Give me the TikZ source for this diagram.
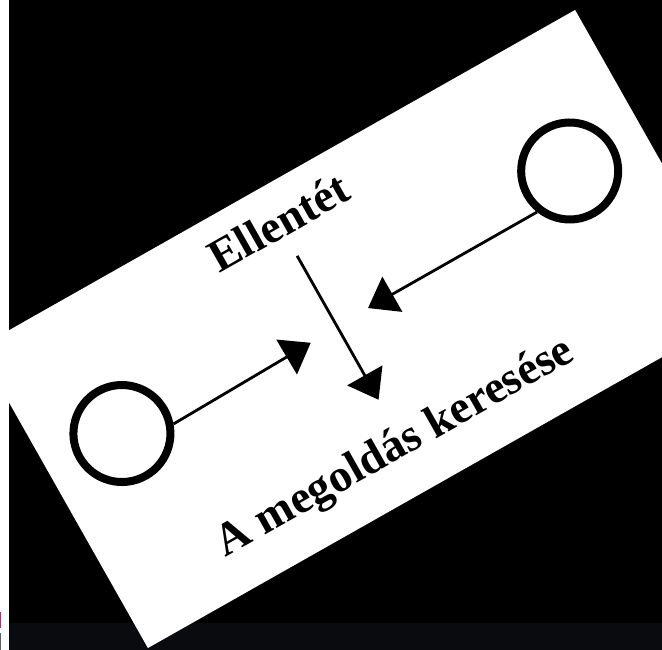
\documentclass[tikz,border=0pt]{standalone}
\usepackage{fontspec}
\setmainfont{Liberation Serif}
\usetikzlibrary{arrows.meta}
\definecolor{bandcol}{RGB}{10,11,15}
\definecolor{markmag}{RGB}{230,20,120}
\definecolor{markgray}{RGB}{90,96,110}
\begin{document}
\begin{tikzpicture}[x=1pt,y=1pt,
  ring/.style={circle,draw=black,line width=8pt,minimum size=97pt,inner sep=0pt,transform shape},
  arr/.style={line width=2.8pt,-{Triangle[length=28pt,width=40pt]}},
  lbl/.style={font=\fontsize{46}{50}\selectfont\bfseries,inner xsep=0pt,inner ysep=0pt,transform shape}]
\useasboundingbox (0,0) rectangle (662,650);
\fill[white] (0,0) rectangle (662,650);
\fill[black] (8.5,27) rectangle (662,650);
\fill[bandcol] (8.5,0) rectangle (662,27);
\fill[markmag] (0,22) rectangle (1.2,38);
\fill[markgray] (0,0) rectangle (1.2,17);
\begin{scope}[shift={(361.5,321)},rotate=29.5]
  \fill[white] (-343,-172.5) rectangle (343,172.5);
  \node[ring] (lc) at (-260,27) {};
  \node[ring] (rc) at (259,35) {};
  \coordinate (ltip) at (-51,13);
  \coordinate (rtip) at (16,15);
  \node[lbl,anchor=base,inner ysep=22pt] (ell) at (-20,118) {Ellentét};
  \coordinate (mtip) at (-20,-70);
  \node[lbl,anchor=base] (meg) at (-29,-132) {A megoldás keresése};
  \draw[arr] (lc.-19) -- (ltip);
  \draw[arr] (rc.202) -- (rtip);
  \draw[arr] (ell.south) -- (mtip);
\end{scope}
\end{tikzpicture}
\end{document}
